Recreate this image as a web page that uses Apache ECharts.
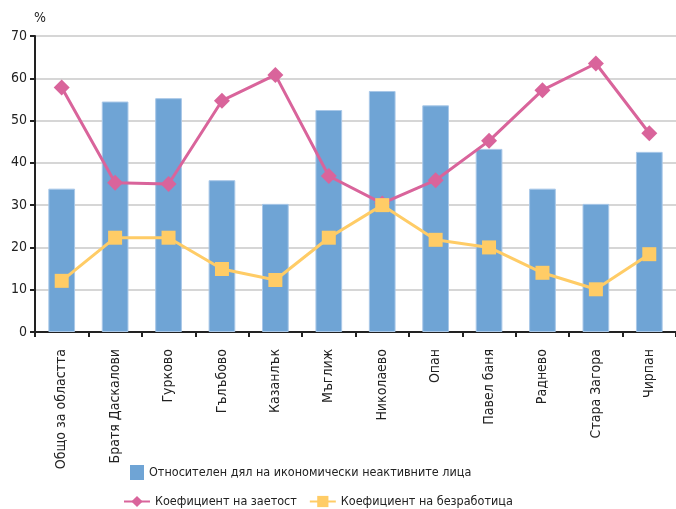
<!DOCTYPE html>
<html><head><meta charset="utf-8">
<script src="https://cdn.jsdelivr.net/npm/echarts@6/dist/echarts.min.js"></script>
<style>html,body{margin:0;padding:0;background:#fff}#c{width:676px;height:509px}</style>
</head><body><div id="c"></div>
<script>
const categories = ['Общо за областта','Братя Даскалови','Гурково','Гълъбово','Казанлък','Мъглиж','Николаево','Опан','Павел баня','Раднево','Стара Загора','Чирпан'];
const inactiveShare = [33.9,54.5,55.3,35.9,30.3,52.5,57.0,53.6,43.3,33.9,30.3,42.6];
const employmentRate = [57.8,35.3,35.0,54.7,60.8,36.9,30.4,35.9,45.2,57.2,63.5,47.0];
const unemploymentRate = [12.1,22.3,22.3,14.9,12.3,22.3,30.0,21.8,20.0,14.0,10.1,18.4];
const seriesNames = ['Относителен дял на икономически неактивните лица','Коефициент на заетост','Коефициент на безработица'];

const FONT = '"DejaVu Sans Condensed", "Liberation Sans Narrow", sans-serif';
const chart = echarts.init(document.getElementById('c'));
chart.setOption({
  animation:false,
  textStyle:{fontFamily:FONT},
  grid:{left:35,right:0,top:36,bottom:177,containLabel:false},
  legend:[
    {data:[{name:seriesNames[0],icon:'rect'}],left:130,top:465,padding:0,itemWidth:14,itemHeight:15,itemGap:10,
     itemStyle:{borderWidth:0},
     textStyle:{fontFamily:FONT,fontSize:12.5,color:'#222'}},
    {data:[seriesNames[1],seriesNames[2]],left:123,top:495,padding:0,itemWidth:26,itemHeight:14,itemGap:12,
     textStyle:{fontFamily:FONT,fontSize:12.5,color:'#222'}}
  ],
  xAxis:{type:'category',data:categories,
    axisLine:{lineStyle:{color:'#222',width:2}},
    axisTick:{show:true,length:5,lineStyle:{color:'#222',width:2}},
    axisLabel:{rotate:90,margin:17,fontSize:14,color:'#222',fontFamily:FONT}
  },
  yAxis:{type:'value',min:0,max:70,interval:10,name:'%',
    nameLocation:'end',nameGap:11,nameTextStyle:{fontSize:14,color:'#222',fontFamily:FONT,align:'left',padding:[0,0,0,-1]},
    axisLine:{show:true,lineStyle:{color:'#222',width:2}},
    axisTick:{show:true,length:5,lineStyle:{color:'#222',width:2}},
    axisLabel:{fontSize:14,color:'#222',margin:8,fontFamily:FONT},
    splitLine:{lineStyle:{color:'#c8c8c8',width:1.5}}
  },
  series:[
    {name:seriesNames[0],type:'bar',data:inactiveShare,barWidth:'50%',
     itemStyle:{color:'#6FA4D5',borderColor:'#A9C8E8',borderWidth:1}},
    {name:seriesNames[1],type:'line',data:employmentRate,symbol:'diamond',symbolSize:16,
     lineStyle:{color:'#D9649B',width:3},itemStyle:{color:'#D9649B'}},
    {name:seriesNames[2],type:'line',data:unemploymentRate,symbol:'rect',symbolSize:14,
     lineStyle:{color:'#FFCC66',width:3},itemStyle:{color:'#FFCC66'}}
  ]
});
</script></body></html>
